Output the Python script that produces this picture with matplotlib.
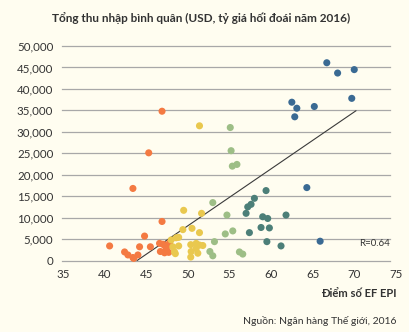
import matplotlib
matplotlib.use("Agg")
import matplotlib.pyplot as plt

plt.rcParams['font.family'] = ['Lato', 'DejaVu Sans']

# Data
orange_x = [40.6, 42.4, 42.8, 43.4, 43.5, 44.0, 44.2, 44.8, 45.5, 45.3, 43.4, 46.9, 46.9, 46.6, 46.7, 47.2, 47.0, 47.4, 47.6, 47.2, 47.7, 47.8]
orange_y = [3400, 2000, 1300, 700, 500, 1300, 3200, 5700, 3200, 25100, 16800, 34800, 9100, 4000, 2100, 3600, 3800, 2800, 3500, 1800, 1900, 4100]

yellow_x = [51.4, 49.5, 51.65, 49.4, 50.5, 51.4, 48.0, 48.6, 48.9, 48.2, 48.9, 48.4, 48.5, 50.35, 51.0, 51.4, 51.8, 51.0, 50.4, 51.2, 50.35]
yellow_y = [31400, 11700, 11000, 7200, 7500, 6500, 4800, 5300, 5400, 3200, 3400, 2000, 1600, 3700, 4000, 3600, 3500, 2800, 2100, 1700, 800]

lgreen_x = [55.1, 55.2, 55.35, 55.9, 53.0, 54.7, 55.4, 54.5, 53.2, 52.65, 53.0, 56.2, 56.6]
lgreen_y = [31000, 25600, 22000, 22400, 13500, 10600, 6900, 6200, 4400, 2100, 1100, 2000, 1500]

teal_x = [59.4, 58.0, 57.6, 57.2, 57.0, 59.0, 59.6, 61.8, 58.8, 59.8, 57.4, 59.5, 61.2]
teal_y = [16300, 14500, 13100, 12500, 11000, 10200, 9800, 10600, 7700, 7600, 6500, 4400, 3400]

blue_x = [66.7, 68.0, 70.0, 69.7, 62.5, 63.1, 62.85, 65.2, 64.3, 65.9]
blue_y = [46100, 43700, 44500, 37800, 36900, 35500, 33500, 35900, 17000, 4500]

trend_x = [43.9, 70.2]
trend_y = [0, 34900]

x_ticks = [35, 40, 45, 50, 55, 60, 65, 70, 75]
y_ticks = [0, 5000, 10000, 15000, 20000, 25000, 30000, 35000, 40000, 45000, 50000]

title = "Tổng thu nhập bình quân (USD, tỷ giá hối đoái năm 2016)"
xlabel = "Điểm số EF EPI"
source = "Nguồn: Ngân hàng Thế giới, 2016"
r_text = "R=0.64"

bg = '#FFFDF0'
text_c = '#333333'

fig = plt.figure(figsize=(4.10, 3.32), dpi=100, facecolor=bg)
ax = fig.add_axes([0.1537, 0.2153, 0.8118, 0.6461])
ax.set_facecolor(bg)
ax.set_xlim(35, 75)
ax.set_ylim(0, 50000)

for yv in y_ticks:
    ax.plot([34.9, 74.35], [yv, yv], color='#A8A8A8', lw=0.9, zorder=1, clip_on=False)

ax.plot(trend_x, trend_y, color='#3A3A3A', lw=0.8, zorder=2)

s = 26
groups = [
    (orange_x, orange_y, '#F47A42'),
    (yellow_x, yellow_y, '#E9C84E'),
    (lgreen_x, lgreen_y, '#9DBE86'),
    (teal_x, teal_y, '#4C7F78'),
    (blue_x, blue_y, '#3A6A93'),
]
for gx, gy, c in groups:
    ax.scatter(gx, gy, s=s, color=c, edgecolors='none', zorder=3, clip_on=False)

for sp in ax.spines.values():
    sp.set_visible(False)
ax.tick_params(length=0, labelsize=8.3, colors=text_c, pad=7)
ax.set_xticks(x_ticks)
ax.set_yticks(y_ticks)
ax.set_yticklabels([f"{v:,}" for v in y_ticks])
ax.set_xticklabels([str(v) for v in x_ticks])
ax.tick_params(axis='x', pad=6)

fig.text(0.49, 0.945, title, ha='center', va='center', fontsize=8.5, fontweight='bold', color=text_c)
fig.text(0.968, 0.117, xlabel, ha='right', va='center', fontsize=8, fontweight='bold', color=text_c)
fig.text(0.968, 0.032, source, ha='right', va='center', fontsize=7.5, color=text_c)
ax.text(74.3, 3900, r_text, ha='right', va='center', fontsize=7, color=text_c)

fig.savefig("out.png", dpi=100, facecolor=bg)
